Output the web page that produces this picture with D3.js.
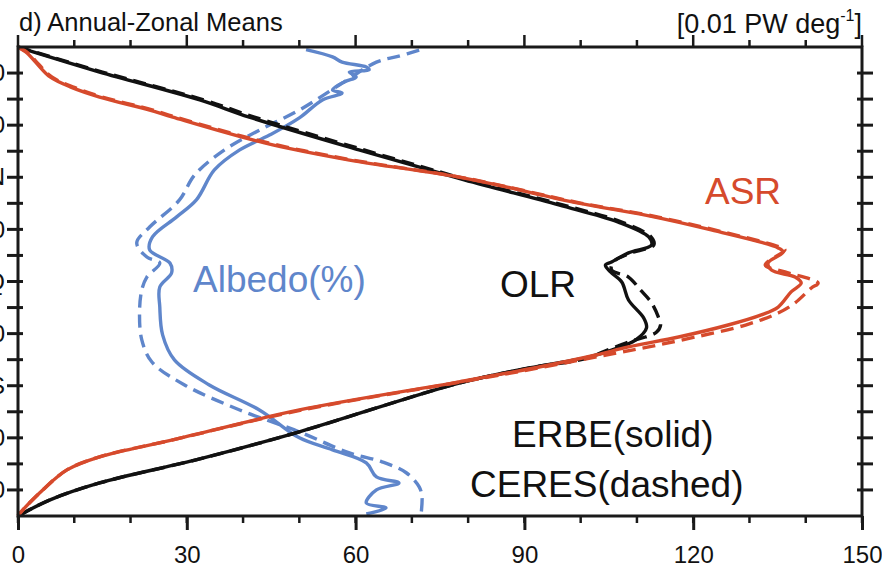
<!DOCTYPE html>
<html>
<head>
<meta charset="utf-8">
<script src="https://cdn.jsdelivr.net/npm/d3@7"></script>
<style>
  html, body { margin: 0; padding: 0; background: #fff; }
  svg { display: block; }
  text { font-family: "Liberation Sans", Arial, Helvetica, sans-serif; }
</style>
</head>
<body>
<svg id="chart" width="882" height="571"></svg>
<script>
// ---------------- data ----------------
const xTickValues = [0, 30, 60, 90, 120, 150];
const xMinorTicks = [0, 10, 20, 30, 40, 50, 60, 70, 80, 90, 100, 110, 120, 130, 140, 150];
const latTicks = [-80, -70, -60, -50, -40, -30, -20, -10, 0, 10, 20, 30, 40, 50, 60, 70, 80];
const latLabelValues = [80, 60, 40, 20, 0, -20, -40, -60, -80];
const latLabelText = ["80", "60", "40N", "20", "EQ", "20", "40S", "60", "80"];

// OLR
const olrErbeLat = [90, 88.1, 80.4, 69.7, 63.1, 50.5, 39, 29.4, 22.8, 17.1, 14, 11, 7.5, 6.3, 3.7, -0.2, -7.1, -14, -17.8, -22.4, -26.3, -29, -33.2, -39, -57.7, -68.1, -77.3, -83.8, -90];
const olrErbeVal = [0, 2.7, 14.5, 32.3, 41.1, 60.6, 79.3, 96.1, 106.7, 112.1, 112.6, 108.5, 105.5, 104.4, 105.3, 107.3, 108.5, 111.2, 111.7, 109.8, 105.5, 101.4, 90.8, 78.4, 50, 32.3, 14.5, 5.7, 0];
const olrCeresLat = [90, 88.1, 80.4, 69.7, 63.1, 50.5, 39, 29.4, 22.8, 17.1, 14, 11, 7.5, 4.4, 1.7, -3.2, -8.2, -13.6, -16.7, -19.4, -21.3, -23.2, -27, -29.5, -33.2, -39, -57.7, -68.1, -77.3, -83.8, -90];
const olrCeresVal = [0, 3, 15, 33, 42, 61.5, 80, 96.8, 107.3, 112.5, 113, 109, 105.8, 105.5, 108.5, 110.6, 112.6, 113.8, 114.2, 113.5, 111.5, 108.5, 104, 101, 91, 78.4, 50, 32.3, 14.5, 5.7, 0];

// ASR
const asrErbeLat = [90, 87.7, 84, 78.5, 74.5, 70.8, 65.8, 63.1, 53.2, 46.6, 39.7, 30.1, 25.5, 19.8, 12.9, 11.3, 7.1, 4.4, 1.7, -0.6, -4.0, -9.8, -12.8, -16.7, -21.3, -25.1, -28.2, -32.8, -38.5, -49.3, -60.8, -67.3, -72.3, -80, -88.8, -90];
const asrErbeVal = [0, 1.6, 3.2, 5.7, 9.5, 14.5, 23.4, 27.5, 43.8, 58.9, 79.3, 99.6, 111.5, 123.2, 135.1, 136, 133.3, 133.9, 138.1, 139.2, 137.4, 135.1, 132.1, 126.2, 117.4, 108.5, 102.7, 92.6, 78.4, 50, 27.5, 14.5, 8.7, 4.4, 0.4, 0];
const asrCeresLat = [90, 87.7, 84, 78.5, 74.5, 70.8, 65.8, 63.1, 53.2, 46.6, 39.7, 30.1, 25.5, 19.8, 12.9, 12.1, 6.3, 3.7, -0.6, -2.5, -8.2, -12.1, -16.7, -21.3, -25.1, -28.2, -32.8, -38.5, -49.3, -60.8, -67.3, -72.3, -80, -88.8, -90];
const asrCeresVal = [0, 1.8, 3.4, 6, 10, 15, 24, 28, 44.5, 59.5, 79.5, 100, 112, 123.8, 135.8, 136.3, 132.8, 136.3, 142.2, 141, 138.1, 135.1, 129.3, 120.4, 112.1, 104.5, 93.5, 78.8, 50.5, 27.5, 14.5, 8.7, 4.4, 0.4, 0];

// Albedo (%)
const albErbeLat = [89, 86.2, 84.2, 82.3, 81.2, 80.4, 78.5, 76.6, 73.5, 72.3, 69.7, 62.8, 56.2, 50.5, 42.8, 31.3, 24.8, 17.1, 12.1, 7.1, 3.3, -2.1, -9.8, -20.5, -30.1, -39.7, -49.3, -60, -64.6, -69.6, -75, -77.3, -80, -85, -86.9, -89.2];
const albErbeVal = [51.2, 55.9, 57.6, 61.9, 62.4, 58.9, 60.1, 58, 55.9, 57.6, 54.1, 50, 44.7, 39.4, 34.9, 31.7, 28.2, 23.9, 23.4, 27, 27.3, 25.2, 25.2, 25.7, 27.8, 34, 42.9, 50, 55.9, 61.9, 63.7, 67.7, 63.7, 61.9, 65.4, 61.9];
const albCeresLat = [88.8, 86.5, 84.2, 75.4, 65.8, 58.1, 50.5, 40.9, 31.3, 20.9, 14.8, 9.4, 7.1, 1.7, -3.2, -12.1, -22.4, -30.9, -39.7, -49.3, -57.7, -65.8, -69.2, -73.4, -78.8, -82.7, -90];
const albCeresVal = [71.3, 67.7, 63.7, 57.1, 50, 42.9, 36.7, 31.4, 28.7, 23.4, 21.1, 22.9, 25.2, 22.9, 22, 21.6, 22, 23.8, 29.6, 39.4, 50, 58.9, 64.7, 69, 71.3, 71.8, 71.6];

// ---------------- drawing ----------------
const svg = d3.select("#chart");
const L = 18, R = 862, T = 47, B = 516;
const x = d3.scaleLinear().domain([0, 150]).range([L, R]);
const y = d3.scaleLinear().domain([-90, 90]).range([B, T]);

const RED = "#d64a2c", BLUE = "#5f86cb", BLACK = "#111111";

const series = [
  { lat: albCeresLat, val: albCeresVal, color: BLUE, dash: "13,7" },
  { lat: albErbeLat, val: albErbeVal, color: BLUE, dash: null },
  { lat: olrCeresLat, val: olrCeresVal, color: BLACK, dash: "13,7" },
  { lat: olrErbeLat, val: olrErbeVal, color: BLACK, dash: null },
  { lat: asrCeresLat, val: asrCeresVal, color: RED, dash: "13,7" },
  { lat: asrErbeLat, val: asrErbeVal, color: RED, dash: null }
];

const line = d3.line().x(d => x(d[1])).y(d => y(d[0])).curve(d3.curveCatmullRom.alpha(0.5));

svg.append("g").selectAll("path").data(series).join("path")
  .attr("d", s => line(s.lat.map((l, i) => [l, s.val[i]])))
  .attr("fill", "none")
  .attr("stroke", s => s.color)
  .attr("stroke-width", 3.4)
  .attr("stroke-linejoin", "round")
  .attr("stroke-linecap", "butt")
  .attr("stroke-dasharray", s => s.dash);

// frame
const axisColor = "#1a1a1a";
svg.append("rect").attr("x", L).attr("y", T).attr("width", R - L).attr("height", B - T)
  .attr("fill", "none").attr("stroke", axisColor).attr("stroke-width", 3);

// bottom axis (labels via d3 axis)
const bottom = svg.append("g").attr("transform", `translate(0,${B})`)
  .call(d3.axisBottom(x).tickValues(xTickValues).tickSize(14).tickPadding(16).tickFormat(d3.format("d")));
bottom.select(".domain").remove();
bottom.selectAll(".tick line").attr("stroke", axisColor).attr("stroke-width", 3);
bottom.selectAll(".tick text").attr("font-size", 24).attr("fill", "#111")
  .attr("font-family", "'Liberation Sans', Arial, sans-serif");

// minor ticks bottom & top
svg.append("g").selectAll("line").data(xMinorTicks).join("line")
  .attr("x1", d => x(d)).attr("x2", d => x(d)).attr("y1", B).attr("y2", B + 7)
  .attr("stroke", axisColor).attr("stroke-width", 2.5);
svg.append("g").selectAll("line").data(xMinorTicks).join("line")
  .attr("x1", d => x(d)).attr("x2", d => x(d)).attr("y1", T).attr("y2", d => xTickValues.includes(d) ? T - 12 : T - 7)
  .attr("stroke", axisColor).attr("stroke-width", 2.5);

// left & right ticks (crossing)
svg.append("g").selectAll("line").data(latTicks).join("line")
  .attr("x1", L - 11).attr("x2", L + 5).attr("y1", d => y(d)).attr("y2", d => y(d))
  .attr("stroke", axisColor).attr("stroke-width", 3);
svg.append("g").selectAll("line").data(latTicks).join("line")
  .attr("x1", R - 5).attr("x2", R + 11).attr("y1", d => y(d)).attr("y2", d => y(d))
  .attr("stroke", axisColor).attr("stroke-width", 3);

// left labels (mostly cut off by the window edge, as in the reference)
const left = svg.append("g").attr("transform", `translate(${L},0)`)
  .call(d3.axisLeft(y).tickValues(latLabelValues).tickSize(0).tickPadding(13)
    .tickFormat(d => latLabelText[latLabelValues.indexOf(d)]));
left.select(".domain").remove();
left.selectAll(".tick text").attr("font-size", 24).attr("fill", "#111")
  .attr("font-family", "'Liberation Sans', Arial, sans-serif");

// titles
svg.append("text").attr("x", 19).attr("y", 31).attr("font-size", 25.5).attr("fill", "#111")
  .text("d) Annual-Zonal Means");
const unit = svg.append("text").attr("x", 862).attr("y", 33).attr("font-size", 27)
  .attr("fill", "#111").attr("text-anchor", "end");
unit.append("tspan").text("[0.01 PW deg");
unit.append("tspan").attr("font-size", 16).attr("dy", -12).text("-1");
unit.append("tspan").attr("dy", 12).text("]");

// in-plot labels
const labels = [
  { t: "ASR", x: 705, y: 204, c: RED },
  { t: "OLR", x: 500, y: 297, c: BLACK },
  { t: "Albedo(%)", x: 193, y: 292, c: BLUE },
  { t: "ERBE(solid)", x: 512, y: 447, c: BLACK },
  { t: "CERES(dashed)", x: 470, y: 497, c: BLACK }
];
svg.append("g").selectAll("text").data(labels).join("text")
  .attr("x", d => d.x).attr("y", d => d.y).attr("fill", d => d.c)
  .attr("font-size", 37).text(d => d.t);
</script>
</body>
</html>
